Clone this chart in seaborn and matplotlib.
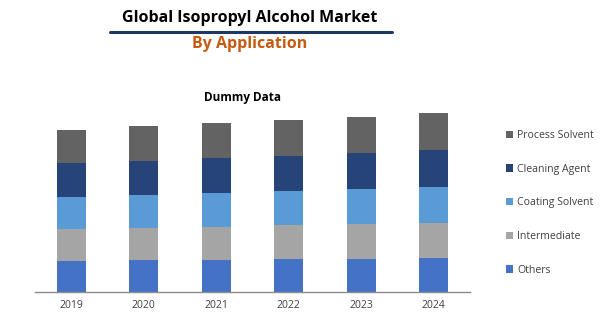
import matplotlib
matplotlib.use("Agg")
import matplotlib.pyplot as plt
from matplotlib.ticker import FixedLocator
from matplotlib.patches import Patch
from matplotlib.lines import Line2D
import numpy as np
import pandas as pd
import seaborn as sns

# Market volume by application (arbitrary units)
years = ["2019", "2020", "2021", "2022", "2023", "2024"]
others = [31.0, 32.3, 32.3, 33.3, 33.3, 34.3]
intermediate = [32.3, 32.0, 33.0, 34.0, 35.0, 35.0]
coating_solvent = [31.7, 32.7, 33.7, 34.0, 35.0, 35.7]
cleaning_agent = [34.0, 34.0, 35.0, 35.0, 36.0, 37.0]
process_solvent = [33.0, 35.3, 35.0, 35.7, 35.7, 37.0]

segments = ["Others", "Intermediate", "Coating Solvent", "Cleaning Agent", "Process Solvent"]
colors = {
    "Others": "#4472C4",
    "Intermediate": "#A5A5A5",
    "Coating Solvent": "#5B9BD5",
    "Cleaning Agent": "#264478",
    "Process Solvent": "#636363",
}

df = pd.DataFrame({
    "Year": years,
    "Others": others,
    "Intermediate": intermediate,
    "Coating Solvent": coating_solvent,
    "Cleaning Agent": cleaning_agent,
    "Process Solvent": process_solvent,
})

# cumulative heights so each layer can be drawn on top of the one below
cum = df[segments].cumsum(axis=1)
cum["Year"] = df["Year"]

sns.set_theme(style="white")
plt.rcParams["font.family"] = ["Open Sans", "DejaVu Sans"]

fig = plt.figure(figsize=(6.14, 3.31), dpi=100)
W, H = 614, 331
ax = fig.add_axes([35 / W, (H - 292) / H, 435 / W, 192 / H])

# draw from the tallest stack down so lower segments sit in front
for seg in reversed(segments):
    sns.barplot(data=cum, x="Year", y=seg, order=years, color=colors[seg],
                saturation=1, width=0.4, ax=ax, linewidth=0, errorbar=None)

ax.set_xlim(-0.5, len(years) - 0.5)
ax.set_ylim(0, 192)
ax.set_xlabel("")
ax.set_ylabel("")
ax.set_yticks([])
for s in ["top", "right", "left"]:
    ax.spines[s].set_visible(False)
ax.spines["bottom"].set_color("#8C8C8C")
ax.spines["bottom"].set_linewidth(1.0)

ax.tick_params(axis="x", which="major", length=0, pad=6, labelsize=7.5, labelcolor="#404040")
ax.xaxis.set_minor_locator(FixedLocator(np.arange(-0.5, len(years), 1.0)))
ax.tick_params(axis="x", which="minor", length=4, width=1, color="#8C8C8C", direction="out")

# titles
fig.text(250 / W, 1 - 18 / H, "Global Isopropyl Alcohol Market", ha="center", va="center",
         fontsize=11.5, fontweight="bold", color="#000000")
fig.add_artist(Line2D([110 / W, 392 / W], [1 - 32 / H, 1 - 32 / H], color="#1F3864", linewidth=2.2))
fig.text(250 / W, 1 - 44.5 / H, "By Application", ha="center", va="center",
         fontsize=11.5, fontweight="bold", color="#C55A11")
fig.text(243 / W, 1 - 97 / H, "Dummy Data", ha="center", va="center",
         fontsize=8.5, fontweight="bold", color="#000000")

# legend, top to bottom in stack order
handles = [Patch(facecolor=colors[s], edgecolor="none") for s in reversed(segments)]
leg = fig.legend(handles, list(reversed(segments)), loc="upper left",
                 bbox_to_anchor=(506 / W, 1 - 130 / H), frameon=False,
                 fontsize=7.6, labelcolor="#404040", handlelength=0.7, handleheight=0.7,
                 handletextpad=0.35, labelspacing=2.15, borderaxespad=0, borderpad=0)

fig.savefig("out.png", dpi=100)
